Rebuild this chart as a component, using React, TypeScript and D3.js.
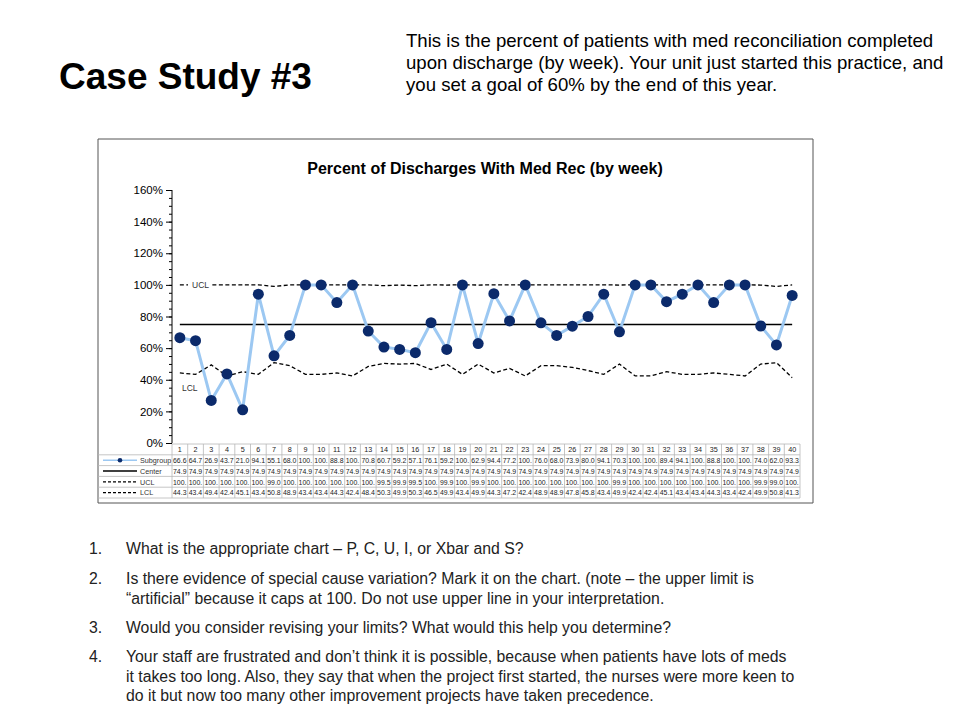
import { useEffect, useRef } from 'react';
import * as d3 from 'd3';

const weeks = d3.range(1, 41).map(String);

const subgroup = [
  66.6, 64.7, 26.9, 43.7, 21.0, 94.1, 55.1, 68.0, 100, 100, 88.8, 100, 70.8, 60.7, 59.2, 57.1, 76.1, 59.2, 100, 62.9,
  94.4, 77.2, 100, 76.0, 68.0, 73.9, 80.0, 94.1, 70.3, 100, 100, 89.4, 94.1, 100, 88.8, 100, 100, 74.0, 62.0, 93.3,
];
const center = weeks.map(() => 74.9);
const ucl = [
  100, 100, 100, 100, 100, 100, 99.0, 100, 100, 100, 100, 100, 100, 99.5, 99.9, 99.5, 100, 99.9, 100, 99.9,
  100, 100, 100, 100, 100, 100, 100, 100, 99.9, 100, 100, 100, 100, 100, 100, 100, 100, 99.9, 99.0, 100,
];
const lcl = [
  44.3, 43.4, 49.4, 42.4, 45.1, 43.4, 50.8, 48.9, 43.4, 43.4, 44.3, 42.4, 48.4, 50.3, 49.9, 50.3, 46.5, 49.9, 43.4, 49.9,
  44.3, 47.2, 42.4, 48.9, 48.9, 47.8, 45.8, 43.4, 49.9, 42.4, 42.4, 45.1, 43.4, 43.4, 44.3, 43.4, 42.4, 49.9, 50.8, 41.3,
];
const yTicks = [0, 20, 40, 60, 80, 100, 120, 140, 160];

const headline = 'Case Study #3';
const intro = [
  'This is the percent of patients with med reconciliation completed',
  'upon discharge (by week). Your unit just started this practice, and',
  'you set a goal of 60% by the end of this year.',
];
const questions = [
  ['What is the appropriate chart \u2013 P, C, U, I, or Xbar and S?'],
  [
    'Is there evidence of special cause variation? Mark it on the chart. (note \u2013 the upper limit is',
    '\u201cartificial\u201d because it caps at 100.  Do not use  upper line in your interpretation.',
  ],
  ['Would you consider revising your limits?  What would this help you determine?'],
  [
    'Your staff are frustrated and don\u2019t think it is possible, because when patients have lots of meds',
    'it takes too long. Also, they say that when the project first started,  the nurses were more keen to',
    'do it but now too many other improvement projects have taken precedence.',
  ],
];

const fmt = (v: number) => (v >= 100 ? '100.' : v.toFixed(1));

export default function App() {
  const axisRef = useRef<SVGGElement>(null);

  const x = d3.scaleBand().domain(weeks).range([172, 800]);
  const y = d3.scaleLinear().domain([0, 160]).range([443, 190]);
  const cx = (i: number) => (x(weeks[i]) as number) + x.bandwidth() / 2;

  useEffect(() => {
    if (!axisRef.current) return;
    const g = d3.select(axisRef.current);
    g.selectAll('*').remove();
    // minor ticks
    g.append('g')
      .call(d3.axisLeft(y).tickValues(d3.range(0, 161, 5)).tickSize(3).tickFormat(() => ''))
      .call(s => s.select('.domain').remove());
    g.append('g')
      .call(d3.axisLeft(y).tickValues(yTicks).tickSize(6).tickPadding(3).tickFormat(d => `${d}%`))
      .call(s => s.selectAll('text').attr('font-size', 11.5).attr('font-family', 'Liberation Sans, Arial, sans-serif').attr('fill', '#000'))
      .call(s => s.select('.domain').attr('d', `M0,${y(160)}V${y(0)}`));
  }, []);

  const line = d3.line<number>().x((_, i) => cx(i)).y(d => y(d));

  const rowTop = 444;
  const rowH = 10.8;
  const rows = [
    { label: 'Subgroup', values: subgroup },
    { label: 'Center', values: center },
    { label: 'UCL', values: ucl },
    { label: 'LCL', values: lcl },
  ];
  const font = 'Liberation Sans, Arial, sans-serif';
  const x0 = x.range()[0];
  const x1 = x.range()[1];

  return (
    <svg width={960} height={720} style={{ position: 'absolute', left: 0, top: 0 }} fontFamily={font}>
      <rect width={960} height={720} fill="#fff" />
      <text x={59} y={89} fontSize={37} fontWeight="bold">{headline}</text>
      {intro.map((t, i) => (
        <text key={i} x={406} y={47 + i * 22} fontSize={18.6}>{t}</text>
      ))}

      {/* chart frame */}
      <line x1={98} y1={139} x2={813} y2={139} stroke="#555" />
      <line x1={98} y1={139} x2={98} y2={503} stroke="#555" />
      <line x1={813} y1={139} x2={813} y2={503} stroke="#555" />
      <line x1={98} y1={503} x2={813} y2={503} stroke="#555" />

      <text x={485} y={174} fontSize={16} fontWeight="bold" textAnchor="middle">Percent of Discharges With Med Rec (by week)</text>

      <g ref={axisRef} transform="translate(172,0)" />

      {/* limits */}
      <path d={line(ucl) ?? ''} fill="none" stroke="#000" strokeWidth={1.3} strokeDasharray="4,2.5" />
      <rect x={188} y={y(100) - 5} width={22} height={10} fill="#fff" />
      <text x={192} y={y(100) + 3} fontSize={8.5} fill="#333">UCL</text>
      <path d={line(lcl) ?? ''} fill="none" stroke="#000" strokeWidth={1.3} strokeDasharray="4,2.5" />
      <text x={182} y={y(33)} fontSize={8.5} fill="#333">LCL</text>
      <line x1={cx(0)} x2={cx(39)} y1={y(74.9)} y2={y(74.9)} stroke="#000" strokeWidth={1.5} />

      <path d={line(subgroup) ?? ''} fill="none" stroke="#9cc8f2" strokeWidth={3} />
      {subgroup.map((v, i) => (
        <circle key={i} cx={cx(i)} cy={y(v)} r={5.5} fill="#0b2a6b" />
      ))}

      {/* data table */}
      <g fontSize={7.2} fill="#222">
        {weeks.map((w, i) => (
          <text key={w} x={cx(i)} y={rowTop + rowH - 2.6} textAnchor="middle">{w}</text>
        ))}
        {rows.map((r, ri) =>
          r.values.map((v, i) => (
            <text key={`${ri}-${i}`} x={(x(weeks[i]) as number) + 1} y={rowTop + rowH * (ri + 2) - 2.6} textLength={13.5} lengthAdjust="spacingAndGlyphs">{fmt(v)}</text>
          ))
        )}
        {rows.map((r, ri) => (
          <text key={r.label} x={140} y={rowTop + rowH * (ri + 2) - 2.6} fill="#333">{r.label}</text>
        ))}
      </g>
      <g stroke="#b8b8b8" strokeWidth={0.8}>
        {d3.range(0, 6).map(k => (
          <line key={k} x1={k === 0 ? x0 : 98} x2={x1} y1={rowTop + rowH * k} y2={rowTop + rowH * k} />
        ))}
        {weeks.map((w, i) => (
          <line key={w} x1={x(w) as number} x2={x(w) as number} y1={rowTop} y2={rowTop + rowH * 5} />
        ))}
        <line x1={x1} x2={x1} y1={rowTop} y2={rowTop + rowH * 5} />
      </g>
      {/* legend samples */}
      <line x1={103} x2={137} y1={rowTop + rowH * 1.5} y2={rowTop + rowH * 1.5} stroke="#9cc8f2" strokeWidth={1.5} />
      <circle cx={120} cy={rowTop + rowH * 1.5} r={2.3} fill="#0b2a6b" />
      <line x1={103} x2={137} y1={rowTop + rowH * 2.5} y2={rowTop + rowH * 2.5} stroke="#000" strokeWidth={1.5} />
      <line x1={103} x2={137} y1={rowTop + rowH * 3.5} y2={rowTop + rowH * 3.5} stroke="#000" strokeWidth={1.2} strokeDasharray="3,2" />
      <line x1={103} x2={137} y1={rowTop + rowH * 4.5} y2={rowTop + rowH * 4.5} stroke="#000" strokeWidth={1.2} strokeDasharray="3,2" />

      {/* questions */}
      <g fontSize={15.8} fill="#222">
        {(() => {
          const starts = [554, 584, 633, 662];
          return questions.map((q, qi) => (
            <g key={qi}>
              <text x={89} y={starts[qi]}>{`${qi + 1}.`}</text>
              {q.map((t, li) => (
                <text key={li} x={126} y={starts[qi] + li * 19.5}>{t}</text>
              ))}
            </g>
          ));
        })()}
      </g>
    </svg>
  );
}
